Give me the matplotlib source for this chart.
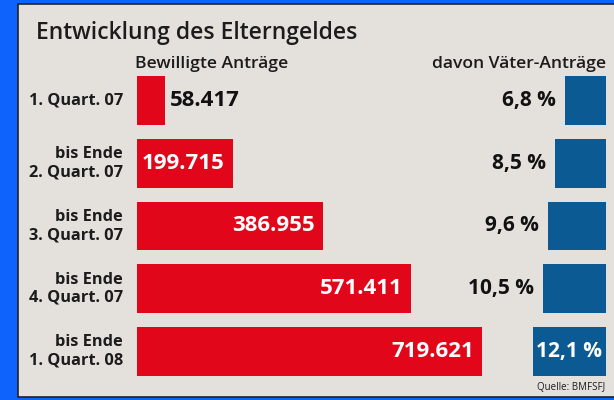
import matplotlib
matplotlib.use("Agg")
import matplotlib.pyplot as plt
from matplotlib.patches import Rectangle

plt.rcParams['font.family'] = ['Open Sans', 'DejaVu Sans']

# ---- data ----
periods = ["1. Quart. 07", "bis Ende\n2. Quart. 07", "bis Ende\n3. Quart. 07",
           "bis Ende\n4. Quart. 07", "bis Ende\n1. Quart. 08"]
antraege = [58417, 199715, 386955, 571411, 719621]
antraege_labels = ["58.417", "199.715", "386.955", "571.411", "719.621"]
vaeter_pct = [6.8, 8.5, 9.6, 10.5, 12.1]
vaeter_labels = ["6,8 %", "8,5 %", "9,6 %", "10,5 %", "12,1 %"]

title = "Entwicklung des Elterngeldes"
left_header = "Bewilligte Anträge"
right_header = "davon Väter-Anträge"
source = "Quelle: BMFSFJ"

W, H = 614, 400
fig = plt.figure(figsize=(W / 100, H / 100), dpi=100)
fig.patch.set_facecolor('#0d63fb')

RED = '#e2061a'
BLUE = '#0b5a93'
BG = '#e4e1dd'
INK = '#1c1c1c'

def fx(px):
    return px / W

def fy(py):
    return 1 - py / H

# panel
fig.patches.append(Rectangle((fx(17.5), fy(396.5)), fx(W + 10 - 17.5), (396.5 - 3.5) / H,
                             transform=fig.transFigure, facecolor=BG,
                             edgecolor='#222222', linewidth=1.2, zorder=-10))

# text
fig.text(fx(36), fy(33), title, fontsize=16.5, fontweight='semibold', color=INK,
         ha='left', va='center')
fig.text(fx(135), fy(64), left_header, fontsize=12.6, fontweight='semibold', color=INK,
         ha='left', va='center')
fig.text(fx(606), fy(64), right_header, fontsize=12.6, fontweight='semibold', color=INK,
         ha='right', va='center')
fig.text(fx(605), fy(388), source, fontsize=7, color=INK, ha='right', va='center')

# geometry
row0, row_pitch = 100.5, 62.75
ax_top = row0 - row_pitch / 2
n = len(periods)
ax_h = row_pitch * n

# left axes (red bars)
red_left, red_w = 137, 345
axL = fig.add_axes([fx(red_left), fy(ax_top + ax_h), red_w / W, ax_h / H])
axL.set_xlim(0, max(antraege))
axL.set_ylim(n - 0.5, -0.5)
axL.axis('off')
axL.barh(range(n), antraege, height=0.78, color=RED, linewidth=0)

px_per_unit_L = red_w / max(antraege)
for i, (v, lab, per) in enumerate(zip(antraege, antraege_labels, periods)):
    wpx = v * px_per_unit_L
    if wpx > 80:
        axL.annotate(lab, (v, i), xytext=(-8, 0), textcoords='offset pixels',
                     ha='right', va='center', color='white', fontsize=16,
                     fontweight='bold')
    else:
        axL.annotate(lab, (v, i), xytext=(5, 0), textcoords='offset pixels',
                     ha='left', va='center', color='#111111', fontsize=16,
                     fontweight='bold')
    axL.annotate(per, (0, i), xytext=(-14, 0), textcoords='offset pixels',
                 ha='right', va='center', color=INK, fontsize=11.8,
                 fontweight='bold', linespacing=1.2, multialignment='right',
                 annotation_clip=False)

# right axes (blue bars growing to the left)
blue_right, blue_w = 606, 73
span = 200
axR = fig.add_axes([fx(blue_right - span), fy(ax_top + ax_h), span / W, ax_h / H])
axR.set_xlim(max(vaeter_pct) * span / blue_w, 0)
axR.set_ylim(n - 0.5, -0.5)
axR.axis('off')
axR.barh(range(n), vaeter_pct, height=0.78, color=BLUE, linewidth=0)
for i, (v, lab) in enumerate(zip(vaeter_pct, vaeter_labels)):
    wpx = v * blue_w / max(vaeter_pct)
    if wpx > 70:
        axR.annotate(lab, (v / 2, i), ha='center', va='center', color='white',
                     fontsize=15, fontweight='bold')
    else:
        axR.annotate(lab, (v, i), xytext=(-9, 0), textcoords='offset pixels',
                     ha='right', va='center', color='#111111', fontsize=15,
                     fontweight='bold')

fig.savefig('out.png', dpi=100, facecolor=fig.get_facecolor())
